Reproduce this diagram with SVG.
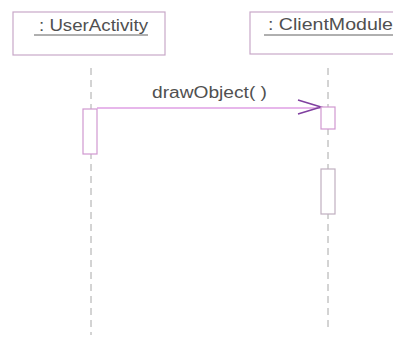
<svg xmlns="http://www.w3.org/2000/svg" width="393" height="351" viewBox="0 0 393 351">
  <style>
    .obj { fill: #ffffff; stroke: #c8a8c8; stroke-width: 1.2; }
    .act { fill: #ffffff; stroke: #d098d0; stroke-width: 1.2; }
    .act2 { fill: #ffffff; stroke: #c0b0c0; stroke-width: 1.2; }
    .life { stroke: #a8a8a8; stroke-width: 1; stroke-dasharray: 7 5; fill: none; }
    .lbl { font-family: "Liberation Sans", Arial, sans-serif; font-size: 16px; fill: #505050; }
    .ul { stroke: #606060; stroke-width: 1; }
    .msg { stroke: #d070d8; stroke-width: 1.2; fill: none; }
    .head { stroke: #8040a0; stroke-width: 1.6; fill: none; }
  </style>
  <rect width="393" height="351" fill="#ffffff"/>

  <g id="connectors">
    <line class="life" x1="91" y1="68" x2="91" y2="335"/>
    <line class="life" x1="328" y1="68" x2="328" y2="328"/>
    <line class="msg" x1="97" y1="108" x2="321" y2="108"/>
    <polyline class="head" points="298,100 321,107 298,114"/>
    <text class="lbl" x="152" y="98" textLength="115" lengthAdjust="spacingAndGlyphs">drawObject( )</text>
  </g>

  <g id="userActivity">
    <rect class="obj" x="13" y="12" width="152" height="43"/>
    <text class="lbl" x="39" y="31" textLength="109" lengthAdjust="spacingAndGlyphs">: UserActivity</text>
    <line class="ul" x1="34" y1="35" x2="148" y2="35"/>
  </g>

  <g id="clientModule">
    <rect class="obj" x="250" y="12" width="150" height="42"/>
    <text class="lbl" x="268" y="30" textLength="125" lengthAdjust="spacingAndGlyphs">: ClientModule</text>
    <line class="ul" x1="264" y1="35" x2="393" y2="35"/>
  </g>

  <g id="activation1">
    <rect class="act" x="83" y="109" width="14" height="45"/>
  </g>
  <g id="activation2">
    <rect class="act" x="321" y="107" width="14" height="22"/>
  </g>
  <g id="activation3">
    <rect class="act2" x="321" y="169" width="14" height="45"/>
  </g>
</svg>
